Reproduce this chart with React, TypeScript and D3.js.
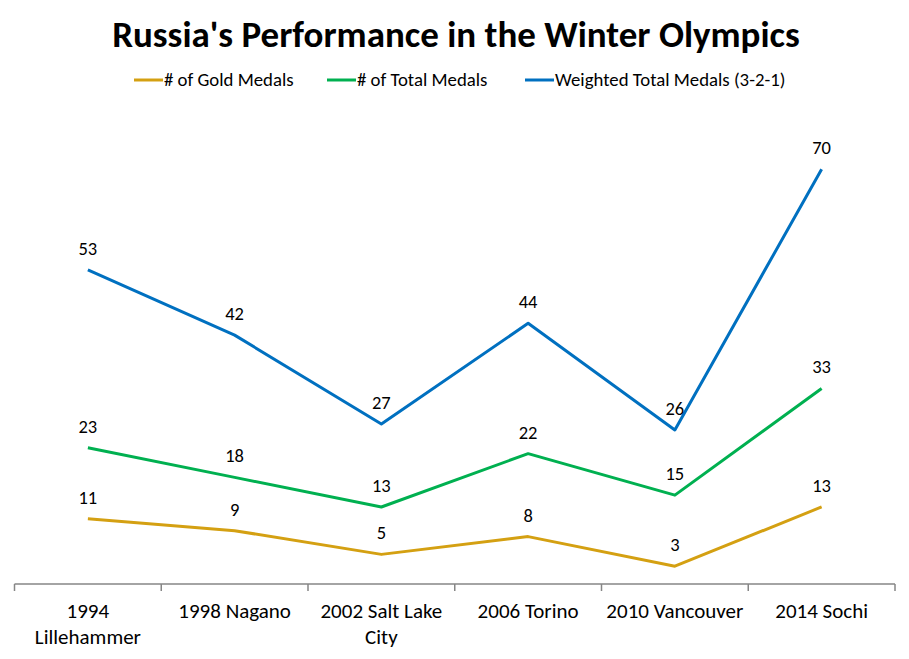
import * as d3 from "d3";

const categories = [
  "1994 Lillehammer",
  "1998 Nagano",
  "2002 Salt Lake City",
  "2006 Torino",
  "2010 Vancouver",
  "2014 Sochi",
];
// wrapped tick labels, as they appear under the axis
const tickLabels = [
  ["1994", "Lillehammer"],
  ["1998 Nagano"],
  ["2002 Salt Lake", "City"],
  ["2006 Torino"],
  ["2010 Vancouver"],
  ["2014 Sochi"],
];
const goldMedals = [11, 9, 5, 8, 3, 13];
const totalMedals = [23, 18, 13, 22, 15, 33];
const weightedMedals = [53, 42, 27, 44, 26, 70];

const seriesNames = [
  "# of Gold Medals",
  "# of Total Medals",
  "Weighted Total Medals (3-2-1)",
];
const seriesColors = ["#D4A012", "#00B050", "#0070C0"];

const font = "Carlito, Lato, 'Open Sans', sans-serif";

export default function App() {
  const width = 909;
  const height = 659;
  const margin = { left: 14.5, right: 14, top: 110, bottom: 75 };

  const x = d3
    .scaleBand()
    .domain(categories)
    .range([margin.left, width - margin.right])
    .padding(0);
  const y = d3
    .scaleLinear()
    .domain([0, 80])
    .range([height - margin.bottom, margin.top]);

  const line = d3
    .line<number>()
    .x((_, i) => x(categories[i])! + x.bandwidth() / 2)
    .y((d) => y(d));

  const series = [goldMedals, totalMedals, weightedMedals];
  const y0 = y(0);
  const boundaries = d3.range(categories.length + 1).map((i) => margin.left + i * x.step());

  // legend positions (line start x for each entry)
  const legendX = [134, 327, 525];
  const legendY = 80;

  return (
    <svg
      width={width}
      height={height}
      style={{ position: "absolute", left: 0, top: 0, background: "#fff" }}
      fontFamily={font}
    >
      <text
        x={456}
        y={47}
        textAnchor="middle"
        fontSize={37}
        fontWeight="bold"
        fill="#000"
      >
        Russia's Performance in the Winter Olympics
      </text>

      <g>
        {seriesNames.map((name, i) => (
          <g key={name}>
            <line
              x1={legendX[i]}
              x2={legendX[i] + 29}
              y1={legendY}
              y2={legendY}
              stroke={seriesColors[i]}
              strokeWidth={3}
            />
            <text
              x={legendX[i] + 30}
              y={legendY + 6}
              fontSize={18.8}
              fill="#000"
            >
              {name}
            </text>
          </g>
        ))}
      </g>

      <g>
        <line x1={boundaries[0]} x2={boundaries[boundaries.length - 1]} y1={y0} y2={y0} stroke="#868686" strokeWidth={1.5} />
        {boundaries.map((bx, i) => (
          <line key={i} x1={bx} x2={bx} y1={y0} y2={y0 + 7} stroke="#868686" strokeWidth={1.5} />
        ))}
        {categories.map((c, i) => (
          <text
            key={c}
            x={x(c)! + x.bandwidth() / 2}
            y={618}
            textAnchor="middle"
            fontSize={21}
            fill="#000"
          >
            {tickLabels[i].map((t, j) => (
              <tspan key={j} x={x(c)! + x.bandwidth() / 2} dy={j === 0 ? 0 : 26}>
                {t}
              </tspan>
            ))}
          </text>
        ))}
      </g>

      {series.map((values, s) => (
        <g key={s}>
          <path
            d={line(values)!}
            fill="none"
            stroke={seriesColors[s]}
            strokeWidth={3}
            strokeLinejoin="round"
          />
          {values.map((v, i) => (
            <text
              key={i}
              x={x(categories[i])! + x.bandwidth() / 2}
              y={y(v) - 15}
              textAnchor="middle"
              fontSize={18.5}
              fill="#000"
            >
              {v}
            </text>
          ))}
        </g>
      ))}
    </svg>
  );
}
